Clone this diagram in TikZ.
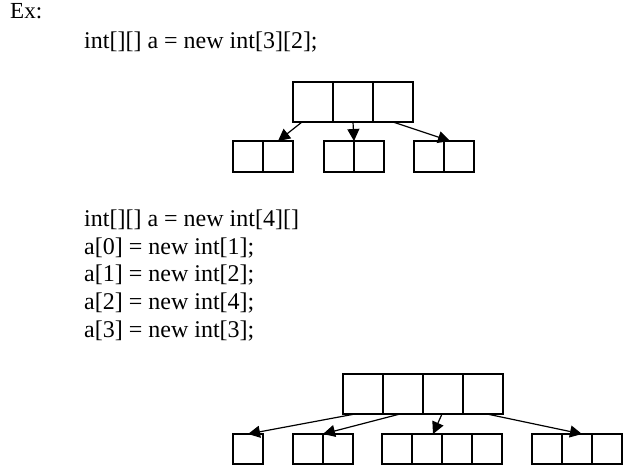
\documentclass[tikz,border=0pt]{standalone}
\usepackage{fontspec}
\setmainfont{Liberation Serif}
\usepackage{tikz}
\usetikzlibrary{arrows.meta}

\begin{document}
\begin{tikzpicture}[x=1pt,y=-1pt,
    code/.style={anchor=base west,inner sep=0,font=\fontsize{24}{28}\selectfont},
    bigcell/.style={rectangle,draw,line width=1.7pt,minimum width=40pt,minimum height=40pt,inner sep=0,outer sep=0},
    cell/.style={rectangle,draw,line width=1.7pt,minimum width=30pt,minimum height=30pt,inner sep=0,outer sep=0},
    arr/.style={line width=1.2pt,-{Triangle[length=12pt,width=12pt]}}]
    \useasboundingbox (0,0) rectangle (632,475);

    % Text
    \node[code,font=\fontsize{23}{28}\selectfont] (ex) at (10,18) {Ex:};
    \node[code] (decl1) at (84,48) {int[][] a = new int[3][2];};

    \node[code] (decl2) at (84,226) {int[][] a = new int[4][]};
    \node[code] (row0) at (84,254) {a[0] = new int[1];};
    \node[code] (row1) at (84,281) {a[1] = new int[2];};
    \node[code] (row2) at (84,309) {a[2] = new int[4];};
    \node[code] (row3) at (84,337) {a[3] = new int[3];};

    % Rectangular array
    \foreach \i/\x in {1/313,2/353,3/393}
        \node[bigcell] (t\i) at (\x,102) {};
    \foreach \n/\x in {a/248,b/278} \node[cell,minimum height=31pt] (s1\n) at (\x,156.5) {};
    \foreach \n/\x in {a/339,b/369} \node[cell,minimum height=31pt] (s2\n) at (\x,156.5) {};
    \foreach \n/\x in {a/429,b/459} \node[cell,minimum height=31pt] (s3\n) at (\x,156.5) {};

    \draw[arr] ([xshift=-11pt]t1.south) -- (s1b.north);
    \draw[arr] (t2.south) -- (s2a.north east);
    \draw[arr] (t3.south) -- ([xshift=6pt]s3a.north east);

    % Jagged array
    \foreach \i/\x in {1/363,2/403,3/443,4/483}
        \node[bigcell] (u\i) at (\x,394) {};
    \node[cell] (v1a) at (248,449) {};
    \foreach \n/\x in {a/308,b/338} \node[cell] (v2\n) at (\x,449) {};
    \foreach \n/\x in {a/397,b/427,c/457,d/487} \node[cell] (v3\n) at (\x,449) {};
    \foreach \n/\x in {a/547,b/577,c/607} \node[cell] (v4\n) at (\x,449) {};

    \draw[arr] ([xshift=-8pt]u1.south) -- (v1a.north);
    \draw[arr] ([xshift=-3pt]u2.south) -- (v2a.north east);
    \draw[arr] ([xshift=-1pt]u3.south) -- ([xshift=6pt]v3b.north);
    \draw[arr] ([xshift=4pt]u4.south) -- ([xshift=5pt]v4b.north);
\end{tikzpicture}
\end{document}
